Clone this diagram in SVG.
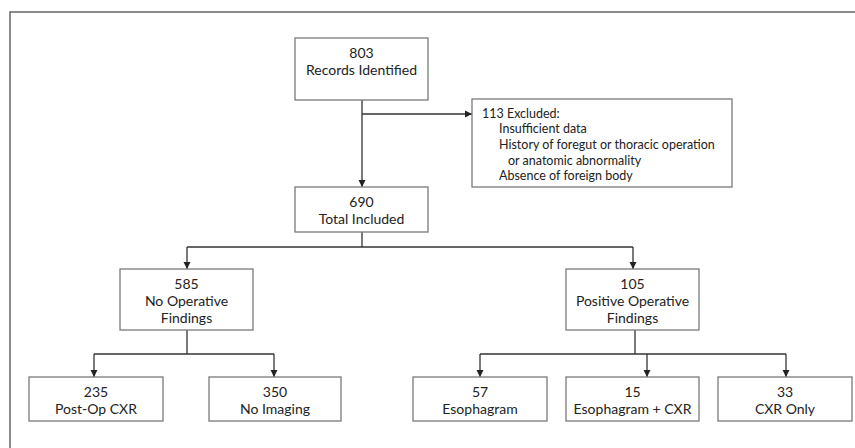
<svg xmlns="http://www.w3.org/2000/svg" width="855" height="448" viewBox="0 0 855 448">
<style>
.box{fill:#fff;stroke:#7a7a7a;stroke-width:1.3}
.t{font-family:Lato,"Liberation Sans",sans-serif;font-size:14px;fill:#222;text-anchor:middle}
.tl{font-family:Lato,"Liberation Sans",sans-serif;font-size:12.5px;fill:#222}
.c{fill:none;stroke:#333;stroke-width:1.3}
.frame{fill:none;stroke:#666;stroke-width:1.5}
</style>
<defs>
<marker id="ah" markerWidth="8" markerHeight="8" refX="7" refY="4" orient="auto" markerUnits="userSpaceOnUse">
<path d="M0,0.5 L7,4 L0,7.5 Z" fill="#222"/>
</marker>
</defs>
<rect width="855" height="448" fill="#fff"/>
<path class="frame" d="M10,448 V12 H855"/>
<g id="connectors">
<path class="c" d="M362,100 V187" marker-end="url(#ah)"/>
<path class="c" d="M362,114 H472" marker-end="url(#ah)"/>
<path class="c" d="M362,232 V247"/>
<path class="c" d="M187,247 H633"/>
<path class="c" d="M187,247 V269" marker-end="url(#ah)"/>
<path class="c" d="M633,247 V269" marker-end="url(#ah)"/>
<path class="c" d="M187,330 V354"/>
<path class="c" d="M94,354 H274"/>
<path class="c" d="M94,354 V377" marker-end="url(#ah)"/>
<path class="c" d="M274,354 V377" marker-end="url(#ah)"/>
<path class="c" d="M635,330 V354"/>
<path class="c" d="M480,354 H786"/>
<path class="c" d="M480,354 V377" marker-end="url(#ah)"/>
<path class="c" d="M647,354 V377" marker-end="url(#ah)"/>
<path class="c" d="M786,354 V377" marker-end="url(#ah)"/>
</g>
<g id="n803">
<rect class="box" x="295" y="38" width="133" height="62"/>
<text class="t" x="361.5" y="58">803</text>
<text class="t" x="361.5" y="75">Records Identified</text>
</g>
<g id="excluded">
<rect class="box" x="472" y="99" width="260" height="88"/>
<text class="tl" x="482" y="117.5">113 Excluded:</text>
<text class="tl" x="499" y="133">Insufficient data</text>
<text class="tl" x="499" y="149">History of foregut or thoracic operation</text>
<text class="tl" x="508" y="164.5">or anatomic abnormality</text>
<text class="tl" x="499" y="180">Absence of foreign body</text>
</g>
<g id="n690">
<rect class="box" x="295" y="187" width="133" height="45"/>
<text class="t" x="361.5" y="207">690</text>
<text class="t" x="361.5" y="224">Total Included</text>
</g>
<g id="n585">
<rect class="box" x="120" y="269" width="133" height="61"/>
<text class="t" x="186.5" y="289">585</text>
<text class="t" x="186.5" y="306">No Operative</text>
<text class="t" x="186.5" y="323">Findings</text>
</g>
<g id="n105">
<rect class="box" x="566" y="269" width="133" height="61"/>
<text class="t" x="632.5" y="289">105</text>
<text class="t" x="632.5" y="306">Positive Operative</text>
<text class="t" x="632.5" y="323">Findings</text>
</g>
<g id="n235">
<rect class="box" x="29" y="377" width="134" height="44"/>
<text class="t" x="96" y="397">235</text>
<text class="t" x="96" y="414">Post-Op CXR</text>
</g>
<g id="n350">
<rect class="box" x="209" y="377" width="132" height="44"/>
<text class="t" x="275" y="397">350</text>
<text class="t" x="275" y="414">No Imaging</text>
</g>
<g id="n57">
<rect class="box" x="413" y="377" width="134" height="44"/>
<text class="t" x="480" y="397">57</text>
<text class="t" x="480" y="414">Esophagram</text>
</g>
<g id="n15">
<rect class="box" x="566" y="377" width="133" height="44"/>
<text class="t" x="632.5" y="397">15</text>
<text class="t" x="632.5" y="414">Esophagram + CXR</text>
</g>
<g id="n33">
<rect class="box" x="718" y="377" width="134" height="44"/>
<text class="t" x="785" y="397">33</text>
<text class="t" x="785" y="414">CXR Only</text>
</g>
</svg>
